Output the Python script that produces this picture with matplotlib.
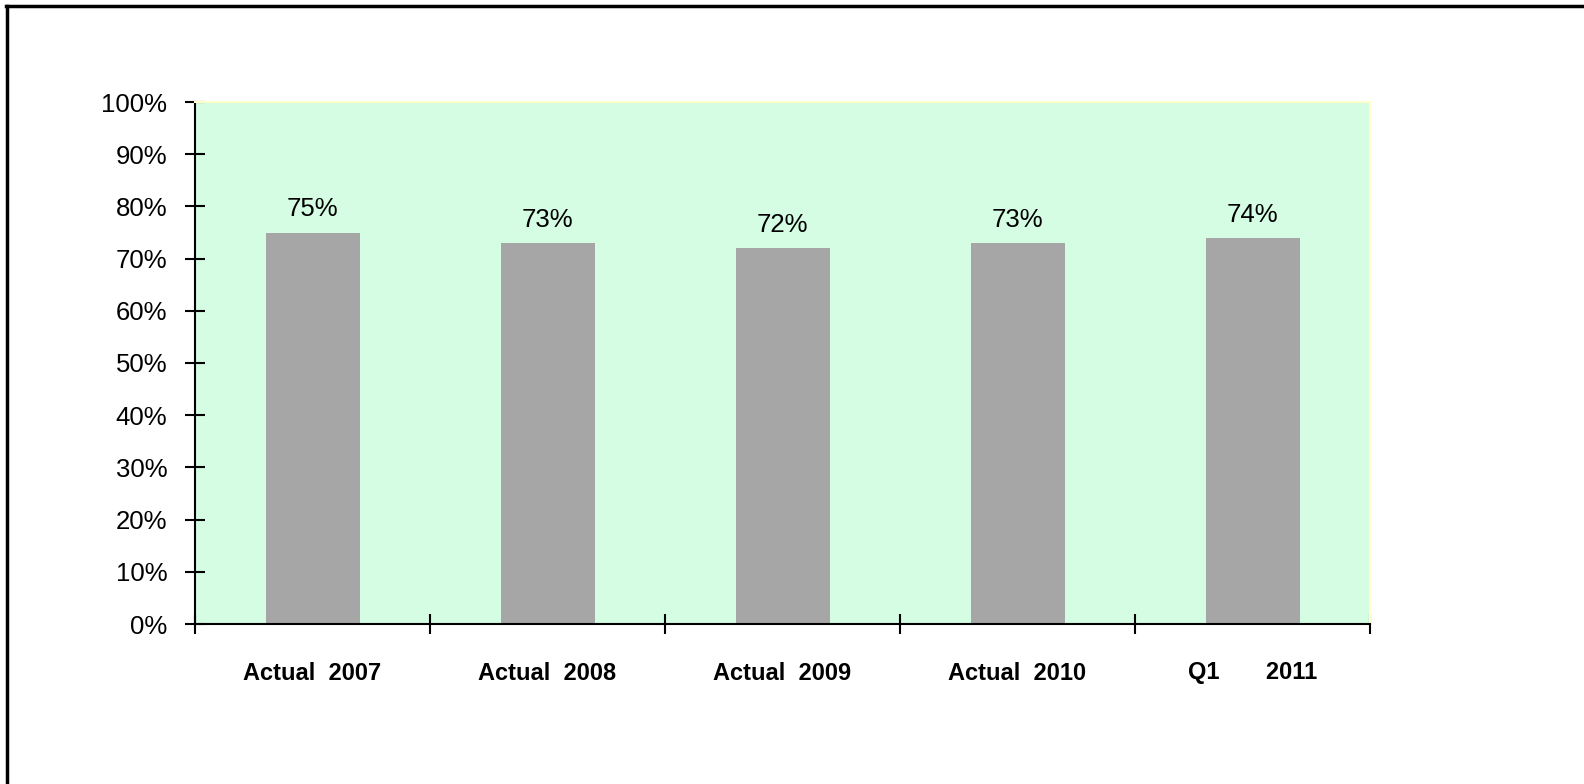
import matplotlib.pyplot as plt
import numpy as np

categories = ["Actual  2007", "Actual  2008", "Actual  2009", "Actual  2010", "Q1       2011"]
values = [0.75, 0.73, 0.72, 0.73, 0.74]
labels = ["75%", "73%", "72%", "73%", "74%"]

plt.rcParams['font.family'] = ['Liberation Sans', 'DejaVu Sans']

fig = plt.figure(figsize=(15.84, 7.84), dpi=100)
ax = fig.add_axes([195 / 1584, 1 - 624 / 784, 1175 / 1584, 522 / 784])
ax.set_facecolor("#D4FDE3")

x = np.arange(len(categories))
ax.bar(x, values, width=0.4, color="#A6A6A6")
for xi, v, t in zip(x, values, labels):
    ax.annotate(t, (xi, v), xytext=(0, 8), textcoords="offset points",
                ha="center", va="bottom", fontsize=18.5)

ax.set_xlim(-0.5, len(categories) - 0.5)
ax.set_ylim(0, 1)
ax.set_yticks(np.arange(0, 1.01, 0.1))
ax.set_yticklabels([f"{int(round(v * 100))}%" for v in np.arange(0, 1.01, 0.1)], fontsize=18.5)
ax.set_xticks(np.arange(-0.5, len(categories), 1.0))
ax.set_xticklabels([])
ax.set_xticks(x, minor=True)
ax.set_xticklabels(categories, minor=True, fontsize=17, fontweight="bold")
ax.tick_params(axis="x", which="minor", length=0, pad=27)
ax.tick_params(axis="x", which="major", direction="inout", length=14, width=1.5)
ax.tick_params(axis="y", direction="inout", length=14, width=1.5, pad=13)

for s in ["left", "bottom"]:
    ax.spines[s].set_linewidth(1.5)
for s in ["top", "right"]:
    ax.spines[s].set_color("#FFFFCC")
    ax.spines[s].set_linewidth(1.5)

# border of the frame (top and left only visible)
fig.add_artist(plt.Line2D([6 / 1584, 1], [1 - 6 / 784, 1 - 6 / 784], color="black", lw=2.5))
fig.add_artist(plt.Line2D([7 / 1584, 7 / 1584], [0, 1 - 6 / 784], color="black", lw=2.5))

plt.savefig("out.png")
